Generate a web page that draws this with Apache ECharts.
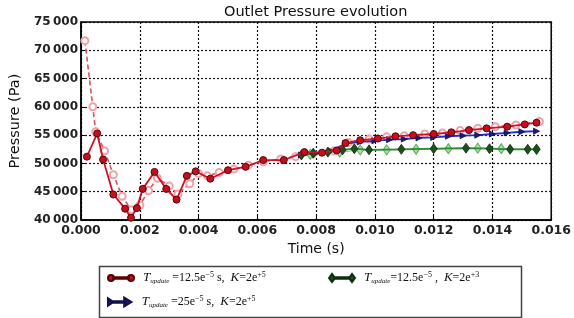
<!DOCTYPE html>
<html>
<head>
<meta charset="utf-8">
<script src="https://cdn.jsdelivr.net/npm/echarts@6/dist/echarts.min.js"></script>
<style>
  html, body { margin: 0; padding: 0; background: #fff; }
  #chart { width: 574px; height: 318px; }
</style>
</head>
<body>
<div id="chart"></div>
<script>
// time (s) / pressure (Pa)
const redT = [0.0002, 0.00055, 0.00075, 0.0011, 0.0015, 0.0017, 0.0019, 0.0021, 0.0025, 0.0029, 0.00325, 0.0036, 0.0039, 0.0044, 0.005, 0.0056, 0.0062, 0.0069, 0.0076, 0.0082, 0.0087, 0.009, 0.0095, 0.0101, 0.0107, 0.0113, 0.012, 0.0126, 0.0132, 0.0138, 0.0145, 0.0151, 0.0155];
const redP = [51200, 55300, 50700, 44500, 42000, 40400, 42100, 45500, 48500, 45500, 43600, 47800, 48600, 47300, 48800, 49400, 50600, 50600, 52000, 51900, 52300, 53600, 54100, 54400, 54800, 55000, 55200, 55500, 55900, 56200, 56500, 56900, 57200];

const pinkT = [0.00013, 0.0004, 0.0005, 0.0008, 0.0011, 0.0014, 0.0017, 0.002, 0.0023, 0.0026, 0.003, 0.0033, 0.0037, 0.004, 0.0043, 0.0047, 0.0052, 0.0057, 0.0062, 0.0068, 0.0073, 0.0079, 0.0086, 0.0091, 0.0098, 0.0104, 0.011, 0.0117, 0.0123, 0.0129, 0.0135, 0.0141, 0.0148, 0.0156];
const pinkP = [71700, 60000, 55600, 52200, 48000, 44200, 41800, 42600, 45200, 47400, 46000, 44600, 46400, 48200, 47800, 48400, 49000, 49700, 50300, 50800, 51200, 51700, 52200, 53700, 54300, 54700, 54900, 55200, 55400, 55800, 56200, 56500, 56800, 57400];

const blueT = [0.0075, 0.008, 0.0085, 0.009, 0.0095, 0.01, 0.0105, 0.011, 0.0115, 0.012, 0.0125, 0.013, 0.0135, 0.014, 0.0145, 0.015, 0.0155];
const blueP = [51500, 51800, 52200, 53500, 53800, 54000, 54200, 54300, 54500, 54600, 54800, 54900, 55000, 55200, 55400, 55600, 55700];

const greenT = [0.0075, 0.0079, 0.0084, 0.0089, 0.0093, 0.0098, 0.0109, 0.012, 0.0131, 0.0139, 0.0146, 0.0152, 0.0155];
const greenP = [51500, 51800, 52000, 52400, 52600, 52400, 52500, 52600, 52700, 52600, 52500, 52500, 52500];

const lgreenT = [0.0078, 0.0088, 0.0095, 0.0104, 0.0114, 0.0125, 0.0135, 0.0143, 0.0155];
const lgreenP = [51600, 52000, 52400, 52400, 52500, 52600, 52700, 52600, 52500];

const xTicks = { min: 0, max: 0.016, step: 0.002 };
const yTicks = { min: 40000, max: 75000, step: 5000 };

const zip = (t, p) => t.map((v, i) => [v, p[i]]);

const serif = 'Liberation Serif';
const rich = {
  t: { fontFamily: serif, fontStyle: 'italic', fontSize: 13, color: '#111' },
  s: { fontFamily: serif, fontStyle: 'italic', fontSize: 7, color: '#111', verticalAlign: 'bottom', padding: [6, 0, 0, 0] },
  n: { fontFamily: serif, fontSize: 12, color: '#111' },
  p: { fontFamily: serif, fontSize: 8, color: '#111', verticalAlign: 'top', padding: [0, 0, 6, 0] }
};
const labels = {
  red: '{t|T}{s|update}{n| =12.5e}{p|−5}{n| s,  }{t|K}{n|=2e}{p|+5}',
  green: '{t|T}{s|update}{n|=12.5e}{p|−5}{n| ,  }{t|K}{n|=2e}{p|+3}',
  blue: '{t|T}{s|update}{n| =25e}{p|−5}{n| s,  }{t|K}{n|=2e}{p|+5}'
};

const chart = echarts.init(document.getElementById('chart'), null, { renderer: 'canvas' });

const axisFont = { fontFamily: 'DejaVu Sans', fontWeight: 'bold', fontSize: 12, color: '#222' };
const dotted = { show: true, lineStyle: { type: [2, 2], color: '#111', width: 1.2 } };

function legendAt(name, left, top, icon) {
  return {
    data: [name], left, top, icon, itemWidth: 26, itemHeight: 9,
    formatter: n => labels[n],
    textStyle: { rich, padding: [0, 0, 0, 4] }, selectedMode: false
  };
}

chart.setOption({
  animation: false,
  backgroundColor: '#fff',
  title: {
    text: 'Outlet Pressure evolution', left: 219, top: 0,
    textStyle: { fontFamily: 'DejaVu Sans', fontWeight: 'normal', fontSize: 14.5, color: '#111' }
  },
  grid: { left: 73, right: 18, top: 22, bottom: 98, show: true, borderColor: '#000', borderWidth: 1.5, backgroundColor: 'transparent' },
  legend: [
    legendAt('red', 102, 266, 'path://M0,5a3,3 0 1,0 6,0a3,3 0 1,0 -6,0z M20,5a3,3 0 1,0 6,0a3,3 0 1,0 -6,0z M5,4.2h16v1.6h-16z'),
    legendAt('green', 323, 266, 'path://M0,5l3,-4l3,4l-3,4z M20,5l3,-4l3,4l-3,4z M5,4.2h16v1.6h-16z'),
    legendAt('blue', 102, 290, 'path://M0,1l6,4l-6,4z M4,4.2h16v1.6h-16z M18,0l8,5l-8,5z')
  ],
  graphic: [{
    type: 'rect', left: 97, top: 264, shape: { width: 422, height: 51 },
    style: { fill: 'none', stroke: '#444', lineWidth: 1.5 }, z: 0
  }],
  xAxis: {
    type: 'value', min: xTicks.min, max: xTicks.max, interval: xTicks.step,
    name: 'Time (s)', nameLocation: 'middle', nameGap: 19,
    nameTextStyle: { fontFamily: 'DejaVu Sans', fontSize: 14, color: '#111' },
    axisLine: { lineStyle: { color: '#000', width: 1.5 } },
    axisTick: { inside: true, length: 4, lineStyle: { color: '#000' } },
    axisLabel: { ...axisFont, fontSize: 12.5, margin: 4, formatter: v => v.toFixed(3) },
    splitLine: dotted
  },
  yAxis: {
    type: 'value', min: yTicks.min, max: yTicks.max, interval: yTicks.step,
    name: 'Pressure (Pa)', nameLocation: 'middle', nameGap: 52,
    nameTextStyle: { fontFamily: 'DejaVu Sans', fontSize: 14.5, color: '#111' },
    axisLine: { show: true, lineStyle: { color: '#000', width: 1.5 } },
    axisTick: { inside: true, length: 4, lineStyle: { color: '#000' } },
    axisLabel: { ...axisFont, margin: 3, formatter: v => String(v).replace(/(\d{3})$/, '\u2009$1') },
    splitLine: dotted
  },
  series: [
    {
      name: 'pink', type: 'line', data: zip(pinkT, pinkP), symbol: 'emptyCircle', symbolSize: 7,
      lineStyle: { color: '#e0505e', width: 1.6, type: [5, 3] },
      itemStyle: { color: '#f2a0a8', borderColor: '#e04a58', borderWidth: 1.2 }, z: 2
    },
    {
      name: 'lgreen', type: 'line', data: zip(lgreenT, lgreenP), symbol: 'diamond', symbolSize: [7, 10],
      lineStyle: { color: '#7fcf7f', width: 1.4 },
      itemStyle: { color: '#a8dca8', borderColor: '#5aaa5a', borderWidth: 1 }, z: 2
    },
    {
      name: 'red', type: 'line', data: zip(redT, redP), symbol: 'circle', symbolSize: 7,
      lineStyle: { color: '#d0102a', width: 1.8 },
      itemStyle: { color: '#c4101e', borderColor: '#5a0008', borderWidth: 1 }, z: 4
    },
    {
      name: 'blue', type: 'line', data: zip(blueT, blueP), symbol: 'triangle', symbolRotate: -90, symbolSize: 6,
      lineStyle: { color: '#2030d0', width: 1.8 },
      itemStyle: { color: '#1a1a80', borderColor: '#10104a', borderWidth: 0.8 }, z: 3
    },
    {
      name: 'green', type: 'line', data: zip(greenT, greenP), symbol: 'diamond', symbolSize: [7, 10],
      lineStyle: { color: '#2e8b2e', width: 1.8 },
      itemStyle: { color: '#1d4f1d', borderColor: '#0e2e0e', borderWidth: 0.8 }, z: 3
    }
  ]
});
</script>
</body>
</html>
